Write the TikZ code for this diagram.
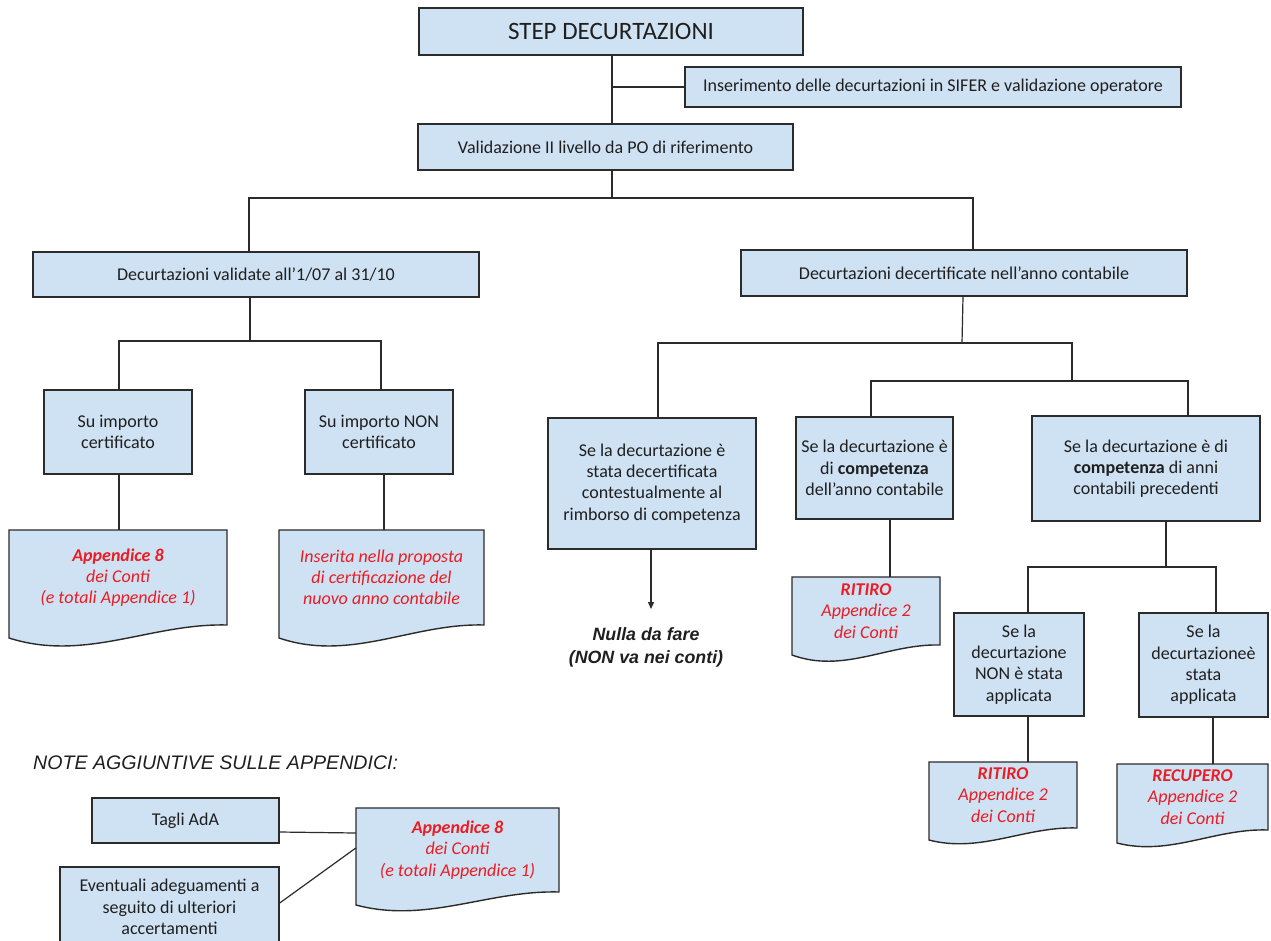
\documentclass[tikz,border=0pt]{standalone}
\usepackage{fontspec}
\setmainfont{Carlito}
\newfontfamily\arialf{Liberation Sans}
\usetikzlibrary{arrows.meta,calc}
\definecolor{boxfill}{HTML}{CFE2F3}
\definecolor{boxline}{HTML}{2B2B2B}
\definecolor{txtred}{HTML}{EA1C24}
\definecolor{txtdark}{HTML}{1F1F1F}
\tikzset{
 boxst/.style={draw=boxline, fill=boxfill, line width=1.4pt, inner sep=0pt, align=center, text=txtdark, font=\fontsize{18}{21.3}\selectfont},
 docfill/.style={draw=boxline, fill=boxfill, line width=1.4pt},
 doctext/.style={inner sep=0pt, align=center, text=txtred, font=\fontsize{18}{21.3}\selectfont\itshape},
 conn/.style={draw=boxline, line width=1.2pt},
 nullast/.style={inner sep=0pt, align=center, text=txtdark, font=\arialf\bfseries\itshape\fontsize{17.8}{23}\selectfont},
 notest/.style={inner sep=0pt, anchor=base west, text=txtdark, font=\arialf\itshape\fontsize{19.6}{22}\selectfont},
}
\newcommand\boxat[6]{\node[boxst, minimum width={#3-#2}, minimum height={#5-#4}] (#1) at ({(#2+#3)/2},{(#4+#5)/2}) {#6};}
\newcommand\docshape[8]{%
 \pgfmathsetmacro\dcw{#3-#2}%
 \pgfmathsetmacro\dch{#5-#4}%
 \pgfmathsetmacro\pax{#2+0.35*\dcw}%
 \pgfmathsetmacro\pay{#6+2.7*(#7-#6)}%
 \pgfmathsetmacro\pbx{#2+0.65*\dcw}%
 \pgfmathsetmacro\pby{#5-0.15*(#6-#5)}%
 \path[docfill] (#2,#4) -- (#3,#4) -- (#3,#5) .. controls (\pbx,\pby) and (\pax,\pay) .. (#2,#6) -- cycle;
 \node[doctext, minimum width=\dcw, minimum height=\dch] (#1) at ({(#2+#3)/2},{(#4+#5)/2}) {#8};
}
\begin{document}
\begin{tikzpicture}[x=1pt,y=-1pt]
\useasboundingbox[fill=white] (0,0) rectangle (1271,940);
% boxes
\boxat{step}{419}{803}{8}{55}{\fontsize{25}{28}\selectfont STEP DECURTAZIONI}
\boxat{ins}{685}{1181}{67}{107}{Inserimento delle decurtazioni in SIFER e validazione operatore}
\boxat{val}{418}{793}{124}{170}{Validazione II livello da PO di riferimento}
\boxat{dval}{33}{479}{252}{297}{Decurtazioni validate all’1/07 al 31/10}
\boxat{ddec}{741}{1187}{250}{296}{Decurtazioni decertificate nell’anno contabile}
\boxat{sucert}{44}{192}{390}{474}{Su importo\\certificato}
\boxat{sunon}{305}{453}{390}{474}{Su importo NON\\certificato}
\boxat{sedec}{548}{756}{418}{549}{Se la decurtazione è\\stata decertificata\\contestualmente al\\rimborso di competenza}
\boxat{comp}{796}{953}{417}{519}{Se la decurtazione è\\di \textbf{competenza}\\dell’anno contabile}
\boxat{prec}{1032}{1260}{416}{521}{Se la decurtazione è di\\\textbf{competenza} di anni\\contabili precedenti}
\boxat{nonappl}{954}{1084}{613}{716}{Se la\\decurtazione\\NON è stata\\applicata}
\boxat{appl}{1139}{1268}{613}{717}{Se la\\decurtazioneè\\stata\\applicata}
\boxat{tagli}{92}{279}{798}{843}{Tagli AdA}
\boxat{event}{60}{279}{867}{947}{Eventuali adeguamenti a\\seguito di ulteriori\\accertamenti}
% documents
\docshape{appa}{9}{227}{530}{625}{638}{647}{\textbf{Appendice 8}\\dei Conti\\(e totali Appendice 1)}
\docshape{insd}{279}{484}{530}{625}{638}{647}{Inserita nella proposta\\di certificazione del\\nuovo anno contabile}
\docshape{rita}{792}{940}{577}{645}{655}{662}{\textbf{RITIRO}\\Appendice 2\\dei Conti}
\docshape{ritb}{929}{1077}{762}{828}{840}{845}{\textbf{RITIRO}\\Appendice 2\\dei Conti}
\docshape{recu}{1117}{1268}{764}{830}{843}{848}{\textbf{RECUPERO}\\Appendice 2\\dei Conti}
\docshape{appb}{356}{559}{808}{892}{905}{912}{\textbf{Appendice 8}\\dei Conti\\(e totali Appendice 1)}
% texts
\node[nullast] (nulla) at (646,647) {Nulla da fare\\(NON va nei conti)};
\node[notest] (note) at (33,769) {NOTE AGGIUNTIVE SULLE APPENDICI:};
% connectors
\draw[conn] (step.south -| 612,0) -- (val.north -| 612,0);
\draw[conn] (ins.west) -- (ins.west -| 612,0);
\coordinate (ja) at (612,198);
\draw[conn] (val.south -| 612,0) -- (ja);
\draw[conn] (dval.north -| 249,0) -- (249,198) -- (973,198) -- (ddec.north -| 973,0);
\draw[conn] (dval.south -| 250,0) -- (250,341);
\draw[conn] (sucert.north -| 119,0) -- (119,341) -- (381,341) -- (sunon.north -| 381,0);
\draw[conn] (sucert.south -| 119,0) -- (appa.north -| 119,0);
\draw[conn] (sunon.south -| 384,0) -- (insd.north -| 384,0);
\draw[conn] (ddec.south -| 963,0) -- (962,343);
\draw[conn] (sedec.north -| 658,0) -- (658,343) -- (1072,343) -- (1072,381);
\draw[conn] (comp.north -| 871,0) -- (871,381) -- (1188,381) -- (prec.north -| 1188,0);
\draw[conn] (comp.south -| 890,0) -- (rita.north -| 890,0);
\draw[conn] (prec.south -| 1166,0) -- (1166,567);
\draw[conn] (nonappl.north -| 1028,0) -- (1028,567) -- (1216,567) -- (appl.north -| 1216,0);
\draw[conn] (nonappl.south -| 1028,0) -- (ritb.north -| 1028,0);
\draw[conn] (appl.south -| 1213,0) -- (recu.north -| 1213,0);
\coordinate (arrend) at (651,609);
\draw[conn,-{Triangle[length=7pt,width=6pt]}] (sedec.south -| 651,0) -- (arrend);
\draw[conn] (tagli.east |- 0,832) -- (appb.west |- 0,833);
\draw[conn] (event.east |- 0,903) -- (appb.west |- 0,848);
\end{tikzpicture}
\end{document}
